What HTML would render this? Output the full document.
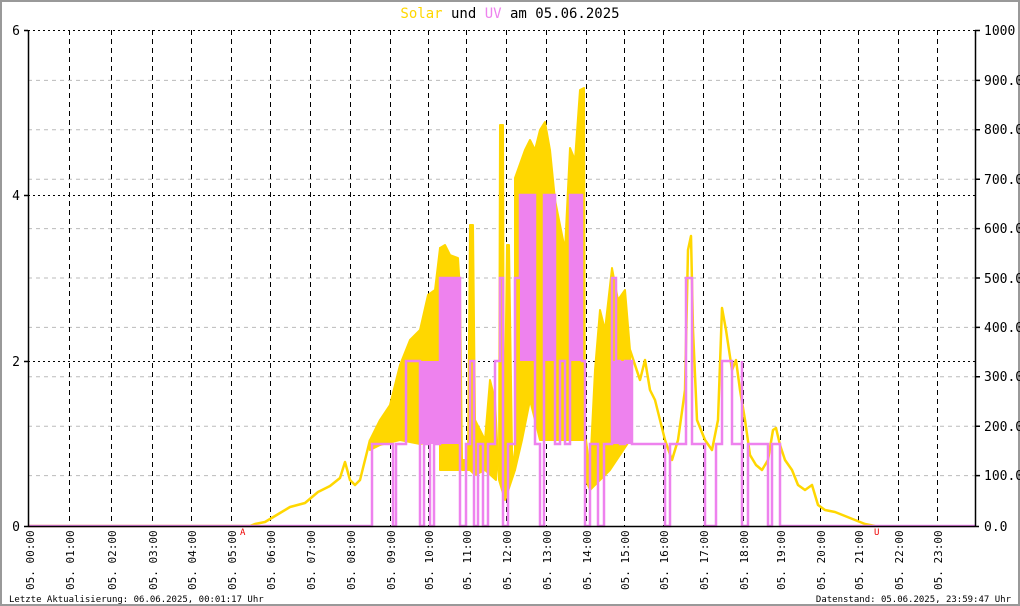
<!DOCTYPE html>
<html><head><meta charset="utf-8"><style>
html,body{margin:0;padding:0;background:#fff}
svg{display:block}
text{font-family:"DejaVu Sans Mono","Liberation Mono",monospace}
</style></head><body>
<svg width="1020" height="606" viewBox="0 0 1020 606" xmlns="http://www.w3.org/2000/svg">
<rect x="1" y="1" width="1018" height="604" fill="#fff" stroke="#999" stroke-width="2"/>
<text x="510" y="18" font-size="14" text-anchor="middle"><tspan fill="#ffd700">Solar</tspan><tspan fill="#000"> und </tspan><tspan fill="#ee82ee">UV</tspan><tspan fill="#000"> am 05.06.2025</tspan></text>
<g stroke="#bbb" stroke-width="1" stroke-dasharray="4,4">
<path d="M28,80.4H975M28,129.8H975M28,179.2H975M28,228.6H975M28,278H975M28,327.4H975M28,376.8H975M28,426.2H975M28,475.6H975"/>
</g>
<g stroke="#000" stroke-width="1" stroke-dasharray="2,3">
<path d="M28,30.5H975M28,195.5H975M28,361.5H975"/>
</g>
<g stroke="#000" stroke-width="1" stroke-dasharray="5,4">
<path d="M69.5,30V526M111.5,30V526M152.5,30V526M191.5,30V526M231.5,30V526M270.5,30V526M310.5,30V526M350.5,30V526M390.5,30V526M428.5,30V526M466.5,30V526M506.5,30V526M546.5,30V526M586.5,30V526M624.5,30V526M663.5,30V526M703.5,30V526M743.5,30V526M780.5,30V526M820.5,30V526M858.5,30V526M898.5,30V526M937.5,30V526"/>
</g>
<!-- solar -->
<g fill="#ffd700" stroke="#ffd700" stroke-width="2" stroke-linejoin="round">
<polygon points="370,440 380,420 390,405 400,365 410,340 420,330 428,295 435,290 440,248 440,440 420,444 400,440 380,445 370,450"/>
<polygon points="440,248 445,245 450,255 458,258 460,290 460,470 440,470"/>
<polygon points="460,290 462,460 468,460 470,225 473,225 475,420 485,440 490,380 495,400 498,460 496,480 485,470 475,475 470,470 462,470"/>
<polygon points="499,480 500,125 503,125 504,480 507,245 509,245 512,450 515,470 505,500"/>
<polygon points="515,178 525,150 530,140 535,150 540,130 545,122 550,150 555,200 565,250 570,148 575,160 580,90 584,88 585,440 560,440 540,440 530,400 522,440 515,470"/>
<polygon points="586,440 590,470 595,370 600,310 605,330 612,268 618,300 625,290 630,350 630,440 610,470 600,480 590,490 586,480"/>
</g>
<g fill="none" stroke="#ffd700" stroke-width="2.5" stroke-linejoin="round">
<polyline points="28,526 250,526 255,524 265,522 275,516 290,507 305,503 318,492 330,486 340,478 345,462 350,480 355,485 360,480 365,460 370,440"/>
<polyline points="630,350 640,380 645,360 650,390 655,400 660,420 665,440 672,460 678,440 685,390 688,250 691,236 693,330 697,420 705,440 712,450 718,420 722,308 726,330 732,370 736,360 740,390 745,420 750,455 756,465 762,470 768,460 773,430 776,428 780,445 785,460 792,470 798,485 805,490 812,485 818,505 825,510 835,512 850,518 865,524 875,526"/>
</g>
<!-- uv -->
<g fill="#ee82ee">
<rect x="420" y="361" width="20" height="83"/>
<rect x="440" y="278" width="20" height="166"/>
<rect x="520" y="195" width="15" height="166"/>
<rect x="544" y="195" width="11" height="166"/>
<rect x="570" y="195" width="12" height="166"/>
<rect x="612" y="361" width="20" height="83"/>
</g>
<path fill="none" stroke="#ee82ee" stroke-width="2.5" d="M28,526 H372 V444 H393 V526 H396 V444 H406 V361 H420 V444 V526 H424 V444 H430 V526 H434 V444 H440 V278 H460 V444 V526 H466 V444 H470 V361 H474 V444 V526 H478 V444 H483 V526 H488 V444 H495 V361 H500 V278 H503 V444 V526 H508 V444 H515 V278 H520 V195 H535 V444 H540 V526 H544 V361 V195 H555 V444 H560 V361 H565 V444 H570 V195 H582 V361 H585 V444 V526 H590 V444 H598 V526 H604 V444 H612 V278 H616 V361 H620 V444 H625 V361 H632 V444 H665 V526 H670 V444 H686 V278 H692 V444 H705 V526 H716 V444 H722 V361 H732 V444 H742 V361 V526 H748 V444 H768 V526 H772 V444 H780 V526 H975"/>
<!-- axes -->
<g stroke="#000" stroke-width="1.5">
<path d="M28.5,30V527M975.5,30V527M24,526.5H979"/>
<path d="M24,30.5H28M24,195.5H28M24,361.5H28"/>
<path d="M975,30.5H980M975,80.4H980M975,129.8H980M975,179.2H980M975,228.6H980M975,278H980M975,327.4H980M975,376.8H980M975,426.2H980M975,475.6H980"/>
</g>
<g font-size="13" fill="#000" text-anchor="end">
<text x="20" y="35">6</text><text x="20" y="200">4</text><text x="20" y="366">2</text><text x="20" y="531">0</text>
</g>
<g font-size="13" fill="#000">
<text x="984" y="35">1000</text><text x="984" y="85">900.0</text><text x="984" y="134">800.0</text><text x="984" y="184">700.0</text><text x="984" y="233">600.0</text><text x="984" y="283">500.0</text><text x="984" y="332">400.0</text><text x="984" y="381">300.0</text><text x="984" y="431">200.0</text><text x="984" y="480">100.0</text><text x="984" y="531">0.0</text>
</g>
<g font-size="11" fill="#000">
<text transform="translate(34,590) rotate(-90)">05. 00:00</text>
<text transform="translate(74,590) rotate(-90)">05. 01:00</text>
<text transform="translate(116,590) rotate(-90)">05. 02:00</text>
<text transform="translate(157,590) rotate(-90)">05. 03:00</text>
<text transform="translate(196,590) rotate(-90)">05. 04:00</text>
<text transform="translate(236,590) rotate(-90)">05. 05:00</text>
<text transform="translate(275,590) rotate(-90)">05. 06:00</text>
<text transform="translate(315,590) rotate(-90)">05. 07:00</text>
<text transform="translate(355,590) rotate(-90)">05. 08:00</text>
<text transform="translate(395,590) rotate(-90)">05. 09:00</text>
<text transform="translate(433,590) rotate(-90)">05. 10:00</text>
<text transform="translate(471,590) rotate(-90)">05. 11:00</text>
<text transform="translate(511,590) rotate(-90)">05. 12:00</text>
<text transform="translate(551,590) rotate(-90)">05. 13:00</text>
<text transform="translate(591,590) rotate(-90)">05. 14:00</text>
<text transform="translate(629,590) rotate(-90)">05. 15:00</text>
<text transform="translate(668,590) rotate(-90)">05. 16:00</text>
<text transform="translate(708,590) rotate(-90)">05. 17:00</text>
<text transform="translate(748,590) rotate(-90)">05. 18:00</text>
<text transform="translate(785,590) rotate(-90)">05. 19:00</text>
<text transform="translate(825,590) rotate(-90)">05. 20:00</text>
<text transform="translate(863,590) rotate(-90)">05. 21:00</text>
<text transform="translate(903,590) rotate(-90)">05. 22:00</text>
<text transform="translate(942,590) rotate(-90)">05. 23:00</text>
</g>
<text x="240" y="535" font-size="9" fill="#e00">A</text>
<text x="874" y="535" font-size="9" fill="#e00">U</text>
<text x="9" y="602" font-size="9" fill="#000">Letzte Aktualisierung: 06.06.2025, 00:01:17 Uhr</text>
<text x="1011" y="602" font-size="9" fill="#000" text-anchor="end">Datenstand: 05.06.2025, 23:59:47 Uhr</text>
</svg>
</body></html>
